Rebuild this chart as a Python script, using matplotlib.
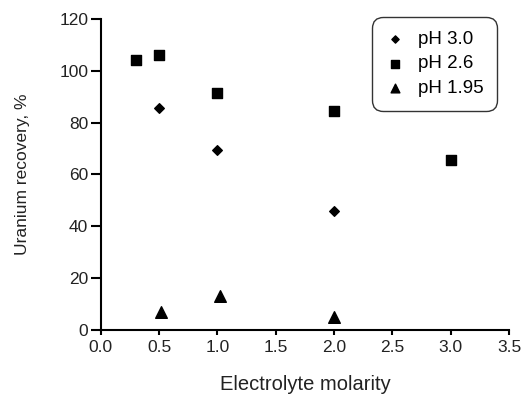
import matplotlib.pyplot as plt

plt.rcParams['font.family'] = ['Liberation Sans', 'DejaVu Sans']

# data
x_ph30 = [0.5, 1.0, 2.0]
y_ph30 = [85.5, 69.5, 46.0]
x_ph26 = [0.3, 0.5, 1.0, 2.0, 3.0]
y_ph26 = [104.0, 106.0, 91.5, 84.5, 65.5]
x_ph195 = [0.52, 1.02, 2.0]
y_ph195 = [7.0, 13.0, 5.0]

fig = plt.figure(figsize=(5.28, 3.96), dpi=100)
ax = fig.add_axes([0.191, 0.167, 0.773, 0.785])

ax.scatter(x_ph30, y_ph30, marker='D', s=24, color='black', label='pH 3.0')
ax.scatter(x_ph26, y_ph26, marker='s', s=50, color='black', label='pH 2.6')
ax.scatter(x_ph195, y_ph195, marker='^', s=70, color='black', label='pH 1.95')

ax.set_xlim(0, 3.5)
ax.set_ylim(0, 120)
ax.set_xticks([0, 0.5, 1.0, 1.5, 2.0, 2.5, 3.0, 3.5])
ax.set_xticklabels(['0.0', '0.5', '1.0', '1.5', '2.0', '2.5', '3.0', '3.5'])
ax.set_yticks(range(0, 121, 20))
ax.spines['top'].set_visible(False)
ax.spines['right'].set_visible(False)
ax.spines['left'].set_linewidth(1.5)
ax.spines['bottom'].set_linewidth(1.5)
ax.tick_params(direction='out', width=1.5, labelsize=12.5, labelcolor='#222222')
ax.tick_params(axis='y', length=7, pad=2)
ax.tick_params(axis='x', length=3.5, pad=4)

ax.set_xlabel('Electrolyte molarity', fontsize=14.5, color='#222222', labelpad=14)
ax.set_ylabel('Uranium recovery, %', fontsize=12.5, color='#222222', labelpad=21)

leg = ax.legend(loc='upper right', bbox_to_anchor=(0.942, 0.958), bbox_transform=fig.transFigure,
                fontsize=13.5, frameon=True, fancybox=True, edgecolor='black',
                handlelength=1.0, handletextpad=0.7, labelspacing=0.4,
                borderpad=0.75, borderaxespad=0, markerscale=0.75)
leg.get_frame().set_linewidth(1.0)
leg.get_frame().set_boxstyle('round', pad=0, rounding_size=0.6)

plt.savefig('out.png', dpi=100)
